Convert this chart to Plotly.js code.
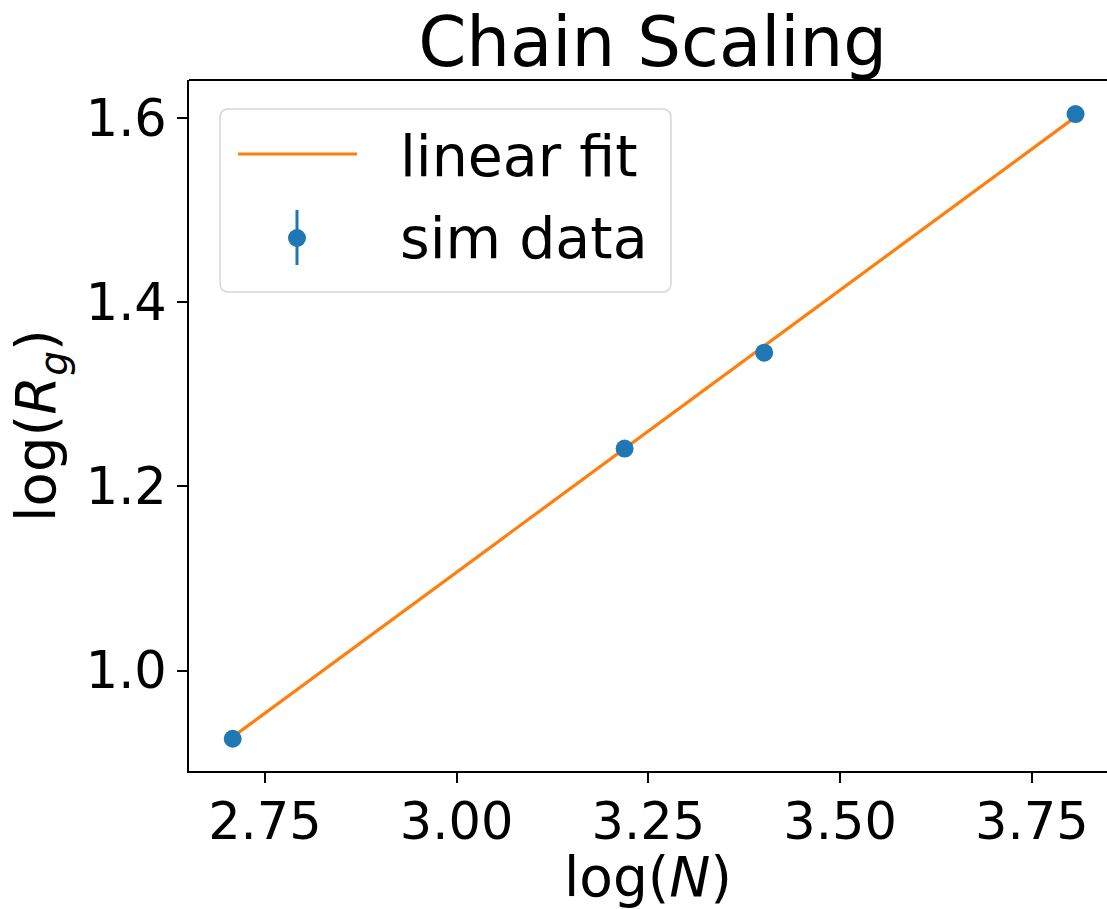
<!DOCTYPE html>
<html><head><meta charset="utf-8">
<script src="https://cdn.plot.ly/plotly-3.0.1.min.js"></script>
<style>html,body{margin:0;padding:0;background:#fff;}#chart{width:1107px;height:909px;}</style>
</head><body><div id="chart"></div>
<script>
// data (natural logs)
const logN = [2.708, 3.219, 3.401, 3.807];
const logRg = [0.926, 1.241, 1.345, 1.604];
const errRg = [0.003, 0.003, 0.003, 0.003];
const fitX = [2.708, 3.807];
const fitY = [0.928, 1.601];
const xTicks = [2.75, 3.00, 3.25, 3.50, 3.75];
const xTickText = ["2.75", "3.00", "3.25", "3.50", "3.75"];
const yTicks = [1.0, 1.2, 1.4, 1.6];
const yTickText = ["1.0", "1.2", "1.4", "1.6"];

const FONT = "DejaVu Sans, sans-serif";
const L = 189, R = 1107, T = 80, B = 771, W = 1107, H = 909;
const px = x => (x - L) / (R - L);
const py = y => (B - y) / (B - T);

const traces = [
  {x: fitX, y: fitY, mode: "lines", name: "linear fit",
   line: {color: "#ff7f0e", width: 3.2}, showlegend: false, hoverinfo: "skip"},
  {x: logN, y: logRg, mode: "markers", name: "sim data",
   marker: {color: "#1f77b4", size: 18},
   error_y: {type: "data", array: errRg, visible: true, color: "#1f77b4", thickness: 3, width: 0},
   showlegend: false}
];

// legend box (rounded)
const bx0 = px(220), bx1 = px(671), by0 = py(292), by1 = py(109);
const rx = 9 / (R - L), ry = 9 / (B - T);
const boxPath = `M ${bx0+rx},${by0} L ${bx1-rx},${by0} Q ${bx1},${by0} ${bx1},${by0+ry} L ${bx1},${by1-ry} Q ${bx1},${by1} ${bx1-rx},${by1} L ${bx0+rx},${by1} Q ${bx0},${by1} ${bx0},${by1-ry} L ${bx0},${by0+ry} Q ${bx0},${by0} ${bx0+rx},${by0} Z`;

const shapes = [
  {type: "line", xref: "paper", yref: "paper", x0: 0, x1: 1, y0: 1, y1: 1, line: {color: "#000", width: 2}, layer: "above"},
  {type: "path", xref: "paper", yref: "paper", path: boxPath, fillcolor: "rgba(255,255,255,0.8)", line: {color: "#d6d6d6", width: 1.5}, layer: "above"},
  {type: "line", xref: "paper", yref: "paper", x0: px(238), x1: px(357), y0: py(154), y1: py(154), line: {color: "#ff7f0e", width: 3.2}, layer: "above"},
  {type: "line", xref: "paper", yref: "paper", x0: px(297), x1: px(297), y0: py(210), y1: py(265), line: {color: "#1f77b4", width: 3}, layer: "above"},
  {type: "circle", xref: "paper", yref: "paper", xsizemode: "pixel", ysizemode: "pixel", xanchor: px(297), yanchor: py(238), x0: -9, x1: 9, y0: -9, y1: 9, fillcolor: "#1f77b4", line: {width: 0}, layer: "above"}
];

const annotations = [
  {xref: "paper", yref: "paper", x: px(398), y: py(156), xanchor: "left", yanchor: "middle", text: "linear fit", showarrow: false, font: {family: FONT, size: 57, color: "#000"}},
  {xref: "paper", yref: "paper", x: px(398), y: py(238), xanchor: "left", yanchor: "middle", text: "sim data", showarrow: false, font: {family: FONT, size: 57, color: "#000"}}
];

const layout = {
  width: W, height: H,
  paper_bgcolor: "#fff", plot_bgcolor: "#fff",
  margin: {l: L, r: W - R, t: T, b: H - B, pad: 0},
  font: {family: FONT, color: "#000"},
  title: {text: "Chain Scaling", font: {family: FONT, size: 69, color: "#000"}, xref: "paper", x: 0.505, xanchor: "center", yref: "container", y: 1 - 42/H, yanchor: "middle"},
  xaxis: {range: [2.651, 3.848], tickvals: xTicks, ticktext: xTickText, showgrid: false, zeroline: false,
          showline: true, linecolor: "#000", linewidth: 2, ticks: "outside", ticklen: 10, tickwidth: 2, tickcolor: "#000",
          ticklabelstandoff: -5,
          tickfont: {family: FONT, size: 51, color: "#000"},
          title: {text: "log(<i>N</i>)", font: {family: FONT, size: 55, color: "#000"}, standoff: 12}},
  yaxis: {range: [0.891, 1.641], tickvals: yTicks, ticktext: yTickText, showgrid: false, zeroline: false,
          showline: true, linecolor: "#000", linewidth: 2, ticks: "outside", ticklen: 10, tickwidth: 2, tickcolor: "#000",
          tickfont: {family: FONT, size: 51, color: "#000"},
          title: {text: "log(<i>R<sub>g</sub></i>)", font: {family: FONT, size: 56, color: "#000"}, standoff: 12}},
  showlegend: false,
  shapes: shapes,
  annotations: annotations
};

Plotly.newPlot("chart", traces, layout, {displayModeBar: false, staticPlot: true});
</script>
</body></html>
